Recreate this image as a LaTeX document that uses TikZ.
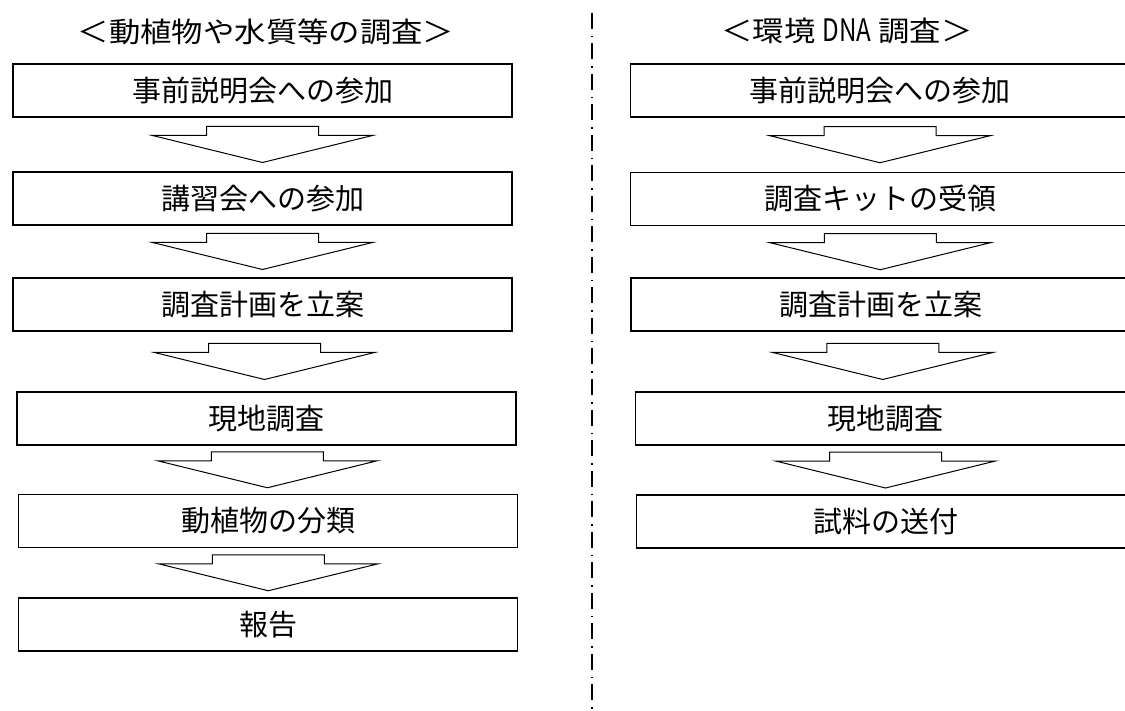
\documentclass[tikz,border=0pt]{standalone}
\usepackage{fontspec}
\setmainfont{Noto Sans CJK JP}
\newfontfamily\titlefont[FakeStretch=1.12]{Noto Sans CJK JP}
\newfontfamily\narrowfont[FakeStretch=0.78]{Noto Sans CJK JP}
\usetikzlibrary{calc}
\tikzstyle{stepbox}=[draw,line width=1.3pt,minimum width=499pt,minimum height=53pt,inner sep=0pt,font=\fontsize{29}{31}\selectfont]
\tikzstyle{heading}=[inner sep=0pt,font=\fontsize{28}{30}\titlefont]
\tikzstyle{flowarrow}=[draw,line width=1pt,line join=miter]
\tikzstyle{divider}=[draw,line width=1.6pt,dash pattern=on 16pt off 7pt on 1.5pt off 6pt]

% block arrow centred in the gap between two boxes
\newcommand{\blockarrow}[2]{%
  \coordinate (mid) at ($(#1.south)!0.5!(#2.north)$);
  \path[flowarrow] ($(mid)+(-56,-18)$) -- ++(112,0) -- ++(0,9) -- ++(54,0)
     -- ($(mid)+(0,18)$) -- ($(mid)+(-110,-9)$) -- ++(54,0) -- cycle;}

\begin{document}
\begin{tikzpicture}[x=1pt,y=-1pt]
   \useasboundingbox (0,0) rectangle (1125,711);

   % headings
   \node[heading] (lhead) at (266,32) {＜動植物や水質等の調査＞};
   \node[heading] (rhead) at (847,31) {＜環境 {\fontsize{31}{32}\narrowfont DNA} 調査＞};

   % left column
   \foreach \pos/ \name/ \txt in {{(262.5,90.5)/l1/事前説明会への参加},{(262.5,198.5)/l2/講習会への参加},
        {(262.5,304.5)/l3/調査計画を立案},{(266.5,418.5)/l4/現地調査},
        {(268.3,521)/l5/動植物の分類},{(268.3,624.5)/l6/報告}}
        \node[stepbox] (\name) at \pos {\txt};

   % right column
   \foreach \pos/ \name/ \txt in {{(880,90.5)/r1/事前説明会への参加},{(880,199)/r2/調査キットの受領},
        {(880.5,304.5)/r3/調査計画を立案},{(885,418.5)/r4/現地調査},
        {(886,521.5)/r5/試料の送付}}
        \node[stepbox] (\name) at \pos {\txt};

   % arrows between the steps
   \foreach \source/ \dest in {l1/l2, l2/l3, l3/l4, l4/l5, l5/l6, r1/r2, r2/r3, r3/r4, r4/r5}
        \blockarrow{\source}{\dest};

   % dividing line
   \coordinate (divtop) at (592,13);
   \coordinate (divbot) at (592,711);
   \path[divider] (divtop) -- (divbot);
\end{tikzpicture}
\end{document}
